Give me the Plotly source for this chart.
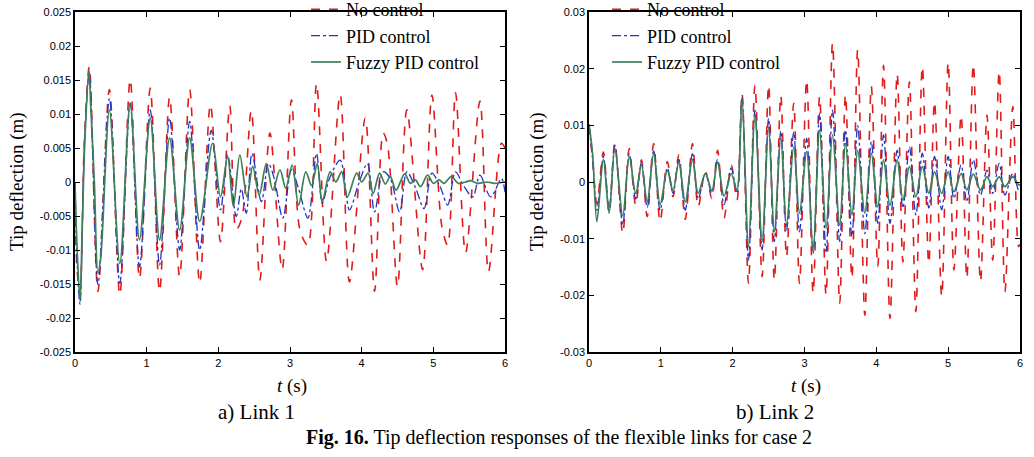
import plotly.graph_objects as go

# ---------------- data (extrema of each response) ----------------
# Link 1
l1_red_t = [0, 0.03, 0.07, 0.13, 0.2, 0.32, 0.48, 0.625, 0.77, 0.9, 1.05, 1.18, 1.32, 1.46, 1.6, 1.74,
            1.89, 2.03, 2.16, 2.25, 2.33, 2.46, 2.58, 2.72, 2.89, 3.02, 3.14, 3.25, 3.37, 3.51, 3.70, 3.83,
            4.05, 4.18, 4.30, 4.36, 4.50, 4.63, 4.85, 4.98, 5.12, 5.20, 5.31, 5.45, 5.65, 5.77, 5.95, 6.0]
l1_red_y = [0.0, -0.013, -0.016, 0.006, 0.017, -0.0161, 0.0136, -0.0166, 0.0151, -0.0142, 0.0138, -0.0161,
            0.0125, -0.0139, 0.0136, -0.0149, 0.0114, -0.0088, 0.0112, -0.007, -0.0052, 0.0105, -0.0144,
            0.0072, -0.0129, 0.0121, -0.0071, -0.0093, 0.0145, -0.0117, 0.0129, -0.0147, 0.0094, -0.0161,
            0.0072, 0.0055, -0.0154, 0.0106, -0.0129, 0.0128, -0.0066, -0.0093, 0.0131, -0.0104, 0.0119,
            -0.0132, 0.0057, 0.005]

l1_blue_t = [0, 0.03, 0.07, 0.13, 0.2, 0.32, 0.48, 0.625, 0.77, 0.9, 1.05, 1.18, 1.32, 1.46, 1.6, 1.74,
             1.9, 2.03, 2.13, 2.25, 2.32, 2.39, 2.47, 2.6, 2.7, 2.78, 2.9, 3.02, 3.12, 3.25, 3.37, 3.45,
             3.55, 3.70, 3.83, 3.95, 4.08, 4.18, 4.30, 4.40, 4.53, 4.63, 4.75, 4.87, 4.98, 5.10, 5.20,
             5.31, 5.42, 5.55, 5.65, 5.80, 5.95, 6.0]
l1_blue_y = [0.0, -0.012, -0.018, 0.005, 0.016, -0.0151, 0.0123, -0.0149, 0.0116, -0.0125, 0.0106, -0.0122,
             0.0094, -0.01, 0.0089, -0.01, 0.0076, -0.0041, 0.004, -0.0051, -0.001, -0.0046, 0.0042,
             -0.0029, 0.0027, 0.0005, -0.0053, 0.0018, -0.001, -0.0053, 0.0042, -0.0031, 0.0005, 0.0032,
             -0.0041, -0.0005, 0.0027, -0.0044, 0.0015, 0.0005, -0.0044, 0.0015, -0.0008, -0.0039, 0.0013,
             -0.0008, -0.0034, 0.0015, -0.0005, -0.0022, 0.001, -0.0022, 0.0005, -0.0015]

l1_green_t = [0, 0.03, 0.07, 0.10, 0.14, 0.195, 0.22, 0.27, 0.32, 0.36, 0.48, 0.625, 0.77, 0.9, 1.05, 1.18,
              1.32, 1.46, 1.6, 1.74, 1.92, 2.03, 2.13, 2.21, 2.30, 2.40, 2.48, 2.57, 2.67, 2.76, 2.86, 2.94,
              3.03, 3.12, 3.22, 3.30, 3.38, 3.45, 3.56, 3.64, 3.72, 3.80, 3.93, 4.00, 4.09, 4.16, 4.25,
              4.33, 4.40, 4.48, 4.60, 4.68, 4.75, 4.82, 4.92, 5.00, 5.08, 5.15, 5.25, 5.35, 5.45, 5.52,
              5.62, 5.75, 5.85, 6.0]
l1_green_y = [0.0, -0.01, -0.0175, -0.007, 0.0067, 0.0165, 0.011, 0.0, -0.0134, -0.011, 0.0106, -0.012,
              0.0116, -0.0085, 0.0094, -0.0085, 0.0065, -0.0071, 0.0065, -0.0058, 0.0057, -0.0022, 0.0037,
              -0.0036, 0.004, -0.0022, 0.0023, -0.0019, 0.0027, -0.0012, 0.0018, -0.0009, 0.0025, -0.0034,
              0.0015, -0.0005, 0.0027, -0.0029, 0.0015, 0.0, 0.0015, -0.0022, 0.0013, 0.0, 0.0013, -0.0017,
              0.0013, -0.0003, 0.0008, -0.0012, 0.0012, -0.0002, 0.0003, -0.0007, 0.001, -0.0002, 0.0003,
              -0.0002, 0.0008, -0.0002, 0.0, 0.0002, -0.0002, 0.0, -0.0002, 0.0]

# Link 2
l2_t = [0.0, 0.05, 0.11, 0.2, 0.28, 0.36, 0.47, 0.56, 0.65, 0.73, 0.81, 0.9, 0.99, 1.09, 1.17, 1.25, 1.34,
        1.44, 1.52, 1.62, 1.71, 1.79, 1.88, 1.98, 2.06, 2.13, 2.22, 2.31, 2.41, 2.5, 2.58, 2.67, 2.75, 2.85,
        2.93, 3.03, 3.12, 3.21, 3.3, 3.39, 3.49, 3.57, 3.66, 3.74, 3.84, 3.93, 4.02, 4.1, 4.19, 4.29, 4.37,
        4.46, 4.55, 4.64, 4.73, 4.81, 4.91, 5.0, 5.08, 5.18, 5.26, 5.35, 5.45, 5.54, 5.62, 5.71, 5.79, 5.9,
        5.98, 6.0]
l2_red_y = [0.0100, 0.004, -0.0038, 0.0053, -0.0055, 0.0069, -0.0091, 0.0059, -0.0041, 0.0039, -0.0061,
            0.0068, -0.007, 0.0036, -0.0026, 0.0048, -0.0066, 0.0068, -0.0044, 0.0019, -0.0029, 0.0056,
            -0.0064, 0.003, -0.0032, 0.0156, -0.0179, 0.0171, -0.0167, 0.0171, -0.0173, 0.0153, -0.0132,
            0.0139, -0.0179, 0.018, -0.0196, 0.0151, -0.0199, 0.0245, -0.0214, 0.0154, -0.017, 0.0233,
            -0.0235, 0.0169, -0.0149, 0.0206, -0.0241, 0.0191, -0.0141, 0.0177, -0.0229, 0.0204, -0.0144,
            0.0142, -0.0202, 0.0211, -0.0155, 0.0118, -0.017, 0.0208, -0.0176, 0.0118, -0.0138, 0.0196,
            -0.0194, 0.0133, -0.0114, -0.011]
l2_blue_y = [0.0100, 0.004, -0.005, 0.0045, -0.005, 0.0065, -0.0075, 0.005, -0.003, 0.0035, -0.0045,
             0.0055, -0.005, 0.0025, -0.002, 0.004, -0.005, 0.005, -0.003, 0.0015, -0.002, 0.004, -0.004,
             0.0025, -0.002, 0.015, -0.0138, 0.0127, -0.012, 0.0112, -0.0105, 0.009, -0.0085, 0.0088,
             -0.0088, 0.0077, -0.0126, 0.0121, -0.0123, 0.0127, -0.0105, 0.0092, -0.0096, 0.01, -0.0091,
             0.0071, -0.0073, 0.0083, -0.0073, 0.0056, -0.0046, 0.0062, -0.0058, 0.0051, -0.0046, 0.0045,
             -0.0049, 0.0045, -0.0029, 0.003, -0.0035, 0.0039, -0.0023, 0.0021, -0.002, 0.0033, -0.0023,
             0.0015, -0.0014, -0.001]
l2_green_y = [0.0102, 0.005, -0.007, 0.004, -0.0055, 0.006, -0.006, 0.0045, -0.002, 0.003, -0.0035, 0.005,
              -0.004, 0.002, -0.0015, 0.0035, -0.0035, 0.004, -0.002, 0.0015, -0.0015, 0.0035, -0.0025,
              0.0015, -0.0015, 0.0147, -0.0114, 0.0118, -0.0105, 0.0097, -0.0088, 0.0079, -0.0076, 0.0062,
              -0.0055, 0.0054, -0.0123, 0.0092, -0.0082, 0.0083, -0.0076, 0.0068, -0.0058, 0.0056, -0.0055,
              0.0051, -0.0044, 0.0039, -0.0041, 0.0039, -0.0032, 0.0027, -0.0026, 0.0027, -0.002, 0.0018,
              -0.002, 0.0018, -0.0017, 0.0015, -0.0014, 0.0014, -0.0014, 0.0009, -0.0008, 0.0009, -0.0008,
              0.0009, -0.0005, -0.0005]

series_names = ["No control", "PID control", "Fuzzy PID control"]
x_ticks = [0, 1, 2, 3, 4, 5, 6]
y1_ticks = [0.025, 0.02, 0.015, 0.01, 0.005, 0, -0.005, -0.01, -0.015, -0.02, -0.025]
y1_text = ["0.025", "0.02", "0.015", "0.01", "0.005", "0", "-0.005", "-0.01", "-0.015", "-0.02", "-0.025"]
y2_ticks = [0.03, 0.02, 0.01, 0, -0.01, -0.02, -0.03]
y2_text = ["0.03", "0.02", "0.01", "0", "-0.01", "-0.02", "-0.03"]

# ---------------- styles ----------------
RED, BLUE, GREEN = "#e01b1b", "#2233c4", "#3d7f5a"
styles = [dict(color=RED, width=1.6, dash="dash"),
          dict(color=BLUE, width=1.3, dash="dashdot"),
          dict(color=GREEN, width=1.7, dash="solid")]
SERIF = "Liberation Serif, Times New Roman, serif"
SANS = "Liberation Sans, Arial, sans-serif"

W, H = 1034, 457
def px(x): return x / W
def py(y): return 1 - y / H

fig = go.Figure()
link1 = [(l1_red_t, l1_red_y), (l1_blue_t, l1_blue_y), (l1_green_t, l1_green_y)]
link2 = [(l2_t, l2_red_y), (l2_t, l2_blue_y), (l2_t, l2_green_y)]
for i, (t, y) in enumerate(link1):
    fig.add_trace(go.Scatter(x=t, y=y, mode="lines", name=series_names[i],
                             line=dict(shape="spline", smoothing=0.9, **styles[i]),
                             xaxis="x", yaxis="y", legend="legend"))
for i, (t, y) in enumerate(link2):
    fig.add_trace(go.Scatter(x=t, y=y, mode="lines", name=series_names[i],
                             line=dict(shape="spline", smoothing=0.9, **styles[i]),
                             xaxis="x2", yaxis="y2", legend="legend2"))

axis_common = dict(showline=True, linecolor="black", linewidth=1.5, mirror="ticks", ticks="inside",
                   ticklen=5, tickcolor="black", showgrid=False, zeroline=False, automargin=False,
                   tickfont=dict(family=SANS, size=11, color="black"))
ydom = [py(352), py(12)]
legend_font = dict(family=SERIF, size=18, color="black")
fig.update_layout(
    width=W, height=H, margin=dict(l=0, r=0, t=0, b=0, autoexpand=False),
    paper_bgcolor="white", plot_bgcolor="white",
    xaxis=dict(domain=[px(75), px(505)], range=[0, 6], tickvals=x_ticks, anchor="y", **axis_common),
    yaxis=dict(domain=ydom, range=[-0.025, 0.025], tickvals=y1_ticks, ticktext=y1_text, anchor="x", **axis_common),
    xaxis2=dict(domain=[px(589), px(1020)], range=[0, 6], tickvals=x_ticks, anchor="y2", **axis_common),
    yaxis2=dict(domain=ydom, range=[-0.03, 0.03], tickvals=y2_ticks, ticktext=y2_text, anchor="x2", **axis_common),
    legend=dict(x=px(306), y=py(-9), xanchor="left", yanchor="top", bgcolor="rgba(0,0,0,0)",
                font=legend_font, tracegroupgap=0),
    legend2=dict(x=px(607), y=py(-9), xanchor="left", yanchor="top", bgcolor="rgba(0,0,0,0)",
                 font=legend_font, tracegroupgap=0),
    showlegend=True,
)

annotations = [
    dict(text="Tip deflection (m)", x=px(17), y=py(182), textangle=-90, size=19),
    dict(text="Tip deflection (m)", x=px(537), y=py(182), textangle=-90, size=19),
    dict(text="<i>t</i> (s)", x=px(292), y=py(386), size=19),
    dict(text="<i>t</i> (s)", x=px(806), y=py(386), size=19),
    dict(text="a) Link 1", x=px(256), y=py(412), size=21),
    dict(text="b) Link 2", x=px(775), y=py(412), size=21),
    dict(text="<b>Fig. 16.</b> Tip deflection responses of the flexible links for case 2", x=px(559), y=py(437),
         size=20),
]
for a in annotations:
    size = a.pop("size")
    fig.add_annotation(xref="paper", yref="paper", showarrow=False,
                       font=dict(family=SERIF, size=size, color="black"),
                       xanchor="center", yanchor="middle", **a)

fig.write_html("out.html", config={"displayModeBar": False},
               post_script="document.body.style.margin='0';document.body.style.overflow='hidden';")
